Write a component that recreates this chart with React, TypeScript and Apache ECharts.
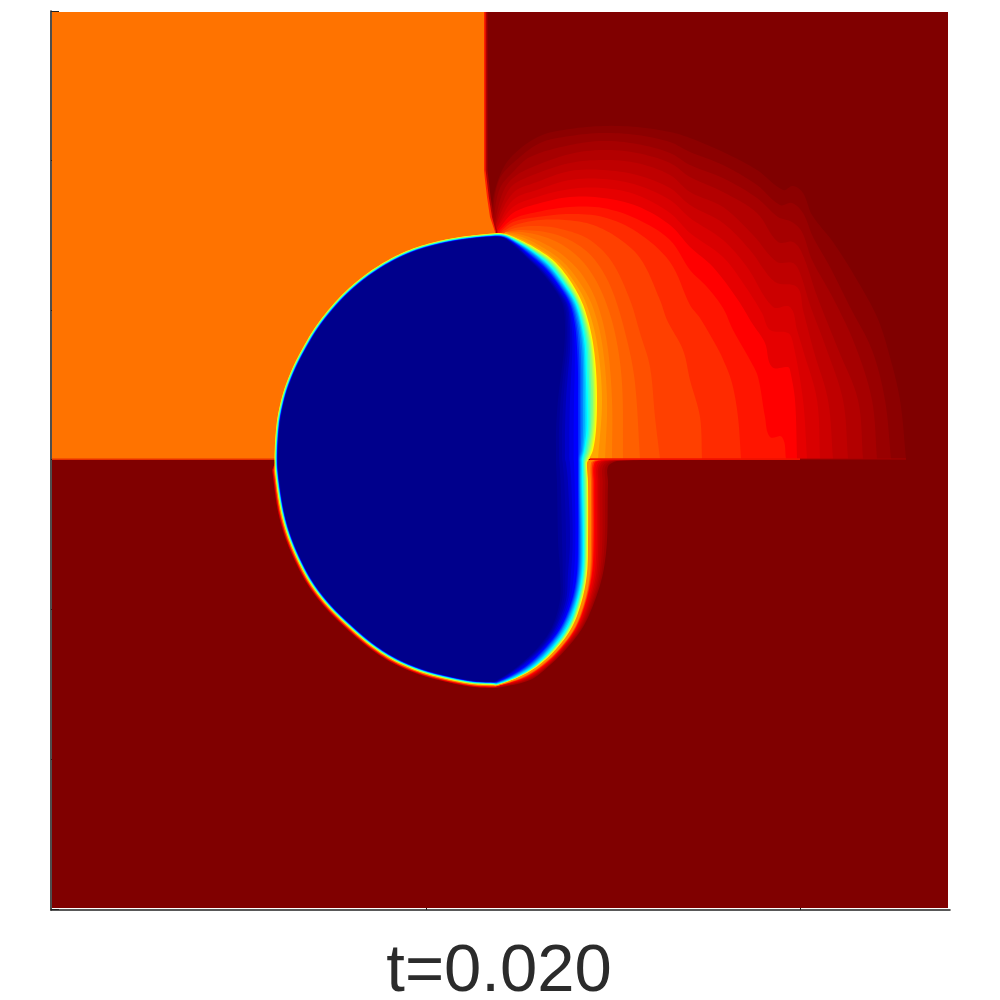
import React, { useEffect, useRef } from "react";
import * as echarts from "echarts";

type P = number[];
const pts = (...v: number[]): P[] => { const o: P[] = []; for (let i = 0; i < v.length; i += 2) o.push([v[i], v[i + 1]]); return o; };

const xTicks = [426, 800];
const yTicks = [11, 160, 310, 459, 609, 759, 909];
const timeLabel = "t=0.020";

const panel = pts(52, 12, 948, 12, 948, 908, 52, 908);
const orangeZone = pts(484, 12, 484, 170, 485, 180, 487, 197, 490, 217, 495, 232, 495, 459, 52, 459, 52, 12);
const orangeEdge1 = pts(485.6, 12, 485.6, 170, 486.8, 180, 488.8, 197, 492, 217, 496, 232, 496, 459, 52, 459, 52, 12);
const orangeEdge2 = pts(487.4, 12, 487.4, 170, 488.6, 180, 490.6, 197, 493.6, 217, 497, 232, 497, 459, 52, 459, 52, 12);
const shockLeft = pts(52, 458.4, 278, 458.4, 278, 460, 52, 460);
const shockRightA = pts(590, 458.2, 800, 458.2, 800, 460, 590, 460);
const shockRightB = pts(800, 458.4, 906, 458.4, 906, 459.6, 800, 459.6);

const fanContours: P[][] = [
  pts(906, 459, 900, 400, 888, 350, 877, 317, 857, 280, 833, 242, 812, 215, 803, 193, 793, 186, 783, 190, 757, 170, 723, 152, 690, 138, 670, 132, 637, 127, 603, 126, 570, 129, 540, 136, 513, 155, 500, 175, 492, 207, 496, 232),
  pts(891, 459, 885, 400, 872, 350, 850, 307, 830, 267, 813, 237, 803, 213, 792, 203, 780, 205, 757, 185, 723, 165, 690, 152, 670, 142, 637, 135, 603, 133, 570, 136, 540, 143, 513, 163, 499, 180, 493, 213, 496, 232),
  pts(877, 459, 872, 400, 855, 345, 833, 298, 812, 260, 802, 232, 792, 222, 778, 217, 757, 198, 723, 178, 690, 165, 670, 153, 637, 144, 603, 141, 570, 145, 530, 157, 513, 172, 500, 188, 494, 218, 496, 232),
  pts(863, 459, 858, 400, 838, 349, 817, 296, 802, 253, 793, 242, 778, 242, 757, 213, 723, 192, 690, 177, 670, 163, 637, 153, 603, 150, 570, 154, 530, 168, 513, 178, 503, 192, 495, 222, 496, 232),
  pts(848, 459, 843, 400, 825, 345, 810, 305, 800, 273, 793, 263, 777, 262, 753, 235, 723, 207, 690, 192, 670, 175, 637, 163, 603, 160, 570, 163, 533, 175, 513, 185, 505, 197, 496, 223, 497, 232),
  pts(833, 459, 828, 400, 814, 352, 803, 310, 797, 287, 775, 282, 750, 250, 723, 223, 690, 205, 670, 188, 637, 175, 603, 170, 570, 171, 537, 182, 513, 193, 496, 225, 497, 232),
  pts(820, 459, 817, 400, 803, 350, 797, 330, 790, 307, 773, 307, 747, 267, 723, 240, 690, 218, 670, 200, 637, 185, 603, 179, 570, 180, 537, 190, 513, 200, 497, 227),
  pts(807, 459, 803, 400, 793, 343, 788, 333, 770, 330, 762, 313, 743, 283, 723, 257, 690, 233, 670, 213, 637, 195, 603, 188, 570, 189, 537, 197, 513, 207, 497, 228),
  pts(797, 459, 795, 400, 790, 370, 788, 367, 772, 367, 765, 343, 752, 323, 738, 300, 713, 267, 690, 247, 670, 225, 637, 206, 603, 198, 570, 197, 537, 204, 513, 213, 498, 230),
  pts(786, 459, 782, 437, 770, 437, 765, 417, 758, 377, 750, 360, 733, 330, 723, 308, 707, 287, 690, 270, 670, 240, 637, 219, 603, 208, 570, 207, 537, 212, 513, 219, 498, 232),
  pts(741, 459, 738, 417, 732, 383, 722, 357, 713, 340, 700, 318, 690, 305, 670, 262, 637, 232, 603, 217, 570, 214, 537, 217, 513, 222, 500, 232),
  pts(702, 459, 700, 417, 690, 380, 683, 350, 667, 320, 660, 300, 640, 258, 615, 236, 590, 224, 565, 220, 540, 220, 515, 225, 502, 232),
  pts(660, 459, 655, 417, 650, 367, 640, 333, 630, 300, 612, 262, 590, 240, 565, 230, 540, 226, 515, 228, 503, 233),
  pts(640, 459, 635, 383, 627, 340, 612, 290, 595, 260, 575, 243, 550, 233, 520, 230, 505, 232),
  pts(623, 459, 622, 383, 615, 333, 603, 295, 588, 268, 570, 250, 548, 238, 522, 232, 505, 232),
  pts(612, 459, 612, 400, 607, 343, 597, 303, 583, 276, 565, 257, 545, 244, 523, 235, 505, 232),
  pts(605, 459, 607, 400, 602, 343, 592, 305, 578, 280, 562, 261, 542, 247, 522, 237, 505, 233),
  pts(598, 459, 602, 400, 597, 343, 586, 303, 573, 280, 558, 262, 540, 249, 521, 239, 504, 233),
];
const fanColors = ["#8c0000", "#990000", "#a60000", "#b30000", "#bf0000", "#cc0000", "#d90000", "#e60000", "#ff0000", "#ff1500", "#ff2b00", "#ff4000", "#ff5000", "#ff6000", "#ff7000", "#ff8000", "#ff9000", "#ffa800"];
const fanClose = pts(500, 459);

const leftArc = pts(493, 685, 473, 684, 446.7, 679, 420, 671.7, 393, 660, 370, 645, 346.7, 625, 326.7, 605, 310, 583, 296.7, 558, 286.7, 533, 280, 506.7, 275, 470, 274.7, 450, 276.7, 423, 280, 405, 285, 387, 293, 367, 303, 347.5, 315, 327.5, 330, 308, 347, 290, 367, 273.5, 390, 259, 413, 248.5, 437, 241.5, 460, 237, 487, 234);
const leftCentre = [500, 460];

const haloArcs: P[][] = [
  pts(640, 460, 610, 464, 608, 483, 607, 540, 603, 573, 595, 600, 583, 627, 567, 648, 550, 665, 530, 680, 497, 688),
  pts(620, 460, 602, 464, 600, 483, 600, 540, 598, 573, 591, 600, 580, 627, 564, 648, 548, 665, 527, 679, 497, 687),
  pts(605, 460, 596, 463, 595, 483, 595, 540, 593, 573, 587, 600, 577, 627, 562, 648, 545, 665, 525, 678, 497, 686),
  pts(595, 460, 591, 463, 591, 483, 591, 540, 590, 573, 585, 600, 575, 627, 560, 648, 542, 665, 523, 677, 497, 686),
];
const haloColors = ["#a00000", "#c80000", "#ff0000", "#ff8800"];
const haloScale = [1.013, 1.011, 1.008, 1.004];
const haloCorner = pts(276, 460);

const bubbleArcs: P[][] = [
  pts(503, 233.5, 520, 240, 537, 249, 554, 261, 569, 279, 581, 300, 588, 320, 593, 343, 596, 370, 597, 400, 596, 430, 593, 450, 589, 459, 587, 463, 588, 483, 588, 540, 587, 573, 582, 600, 572, 627, 557, 648, 539, 665, 520, 676.5, 497, 685),
  pts(503, 234.5, 519, 241, 535, 250.5, 552, 263, 566, 281, 578, 301, 585, 321, 590, 344, 592, 371, 593, 400, 592, 430, 589, 450, 586, 459, 585, 463, 586, 483, 586, 540, 585, 573, 580, 600, 570, 627, 555, 648, 537, 665, 518, 676.5, 497, 684.6),
  pts(503, 235, 518, 242, 534, 252, 550, 265, 564, 283, 576, 302, 582, 322, 586, 345, 587, 372, 588, 400, 588, 430, 585, 450, 583, 459, 583, 463, 583, 483, 584, 540, 583, 573, 578, 600, 568, 627, 553, 648, 536, 665, 517, 676.5, 497, 684),
  pts(503, 236, 517, 243, 532, 253, 548, 267, 562, 285, 573, 303, 579, 323, 582, 346, 583, 372, 583, 400, 583, 430, 582, 450, 580, 459, 580, 463, 580, 483, 581, 540, 580, 573, 575, 600, 564, 627, 550, 647, 533, 664, 515, 675.5, 497, 683),
  pts(503, 237, 516, 244, 530, 255, 546, 269, 560, 287, 570, 304, 575, 325, 577, 347, 578, 373, 578, 400, 578, 430, 578, 450, 578, 459, 578, 463, 578, 483, 578, 540, 577, 573, 572, 600, 561, 627, 547, 646, 530, 663, 513, 674.5, 497, 682),
  pts(503, 237.5, 515, 245, 528, 257, 543, 271, 557, 289, 567, 305, 570, 327, 570, 349, 568, 373, 566, 400, 565, 430, 565, 450, 565, 459, 566, 463, 568, 483, 570, 540, 568, 573, 566, 600, 556, 627, 543, 646, 527, 661, 511, 673, 497, 681),
  pts(503, 238, 514, 246, 527, 258, 541, 272, 555, 290, 563, 306, 565, 328, 564, 350, 561, 375, 558, 400, 556, 430, 556, 450, 556, 459, 556, 463, 557, 483, 558, 540, 560, 573, 560, 600, 552, 627, 540, 645, 525, 660, 510, 672, 497, 680),
];
const bubbleColors = ["#ffff00", "#80ff80", "#00ffff", "#0080ff", "#0000ff", "#0000b4", "#00008c"];
const bubbleScale = [1, 0.996, 0.993, 0.99, 0.988, 0.986, 0.984];
const blendSteps = 3;

const scaled = (list: P[], s: number): P[] =>
  list.map((p) => [leftCentre[0] + (p[0] - leftCentre[0]) * s, leftCentre[1] + (p[1] - leftCentre[1]) * s]);
const hex = (c: string) => [1, 3, 5].map((i) => parseInt(c.slice(i, i + 2), 16));
const mixColor = (a: string, b: string, t: number) => {
  const x = hex(a), y = hex(b);
  return `rgb(${x.map((v, i) => Math.round(v + (y[i] - v) * t)).join(",")})`;
};
const mixArc = (a: P[], b: P[], t: number): P[] => a.map((p, i) => [p[0] + (b[i][0] - p[0]) * t, p[1] + (b[i][1] - p[1]) * t]);

type Ramp = { arc: P[]; color: string; s: number };
const ramp = (arcs: P[][], colors: string[], scales: number[]): Ramp[] => {
  const out: Ramp[] = [];
  arcs.forEach((a, i) => {
    if (i === arcs.length - 1) { out.push({ arc: a, color: colors[i], s: scales[i] }); return; }
    for (let k = 0; k < blendSteps; k++) {
      const t = k / blendSteps;
      out.push({ arc: mixArc(a, arcs[i + 1], t), color: mixColor(colors[i], colors[i + 1], t), s: scales[i] + (scales[i + 1] - scales[i]) * t });
    }
  });
  return out;
};

type Layer = { curve: P[]; tail: P[]; c: string; closed?: boolean };
const layers: Layer[] = [
  { curve: [], tail: panel, c: "#800000" },
  ...fanContours.map((c, i) => ({ curve: c, tail: fanClose, c: fanColors[i] })),
  { curve: [], tail: orangeEdge2, c: "#b00000" },
  { curve: [], tail: orangeEdge1, c: "#ff2000" },
  { curve: [], tail: orangeZone, c: "#ff7300" },
  { curve: [], tail: shockLeft, c: "#e83000" },
  { curve: [], tail: shockRightA, c: "#f01000" },
  { curve: [], tail: shockRightB, c: "#a80000" },
  ...ramp(haloArcs, haloColors, haloScale).map((r) => ({
    curve: [...r.arc, ...scaled(leftArc.filter((q) => q[1] > 460), r.s)],
    tail: haloCorner,
    c: r.color,
  })),
  ...ramp(bubbleArcs, bubbleColors, bubbleScale).map((r) => ({
    curve: [...r.arc, ...scaled(leftArc, r.s)],
    tail: [],
    c: r.color,
    closed: true,
  })),
];

// Draws a pixel-space curve through the projected contour points.
const traceCurve = (q: P[], closed: boolean): P[] => {
  const n = q.length;
  if (n < 3) return q;
  const at = (i: number) => (closed ? q[(i + n) % n] : q[Math.max(0, Math.min(n - 1, i))]);
  const dir = (i: number) => {
    const a = at(i - 1), b = at(i + 1);
    const d = Math.hypot(b[0] - a[0], b[1] - a[1]) || 1;
    return [(b[0] - a[0]) / d, (b[1] - a[1]) / d];
  };
  const out: P[] = [];
  const segs = closed ? n : n - 1;
  for (let i = 0; i < segs; i++) {
    const p0 = at(i), p3 = at(i + 1);
    const len = Math.hypot(p3[0] - p0[0], p3[1] - p0[1]) / 3;
    const d0 = dir(i), d1 = dir(i + 1);
    const p1 = [p0[0] + d0[0] * len, p0[1] + d0[1] * len];
    const p2 = [p3[0] - d1[0] * len, p3[1] - d1[1] * len];
    for (let k = 0; k < 8; k++) {
      const t = k / 8, u = 1 - t;
      out.push([
        u * u * u * p0[0] + 3 * u * u * t * p1[0] + 3 * u * t * t * p2[0] + t * t * t * p3[0],
        u * u * u * p0[1] + 3 * u * u * t * p1[1] + 3 * u * t * t * p2[1] + t * t * t * p3[1],
      ]);
    }
  }
  if (!closed) out.push(q[n - 1]);
  return out;
};

export default function App() {
  const ref = useRef<HTMLDivElement>(null);
  useEffect(() => {
    document.body.style.margin = "0";
    const chart = echarts.init(ref.current!, undefined, { renderer: "svg" });
    const axisBase = {
      type: "value",
      splitLine: { show: false },
      axisLabel: { show: false },
      axisLine: { show: true, onZero: false, lineStyle: { color: "#222222", width: 1.6 } },
    };
    chart.setOption({
      animation: false,
      backgroundColor: "#ffffff",
      title: {
        text: timeLabel,
        left: 499,
        textAlign: "center",
        top: 939,
        padding: 0,
        textStyle: { fontFamily: "Liberation Sans", fontSize: 67, lineHeight: 56, fontWeight: "normal", color: "#2b2b2b" },
      },
      grid: { left: 51, top: 11, width: 899, height: 899 },
      xAxis: {
        ...axisBase,
        min: 51,
        max: 950,
        position: "bottom",
        axisTick: { show: true, inside: true, length: 8, customValues: xTicks, lineStyle: { color: "#222222", width: 1 } },
      },
      yAxis: {
        ...axisBase,
        min: 11,
        max: 910,
        inverse: true,
        position: "left",
        axisTick: { show: true, inside: true, length: 8, customValues: yTicks, lineStyle: { color: "#222222", width: 1 } },
      },
      series: [
        {
          type: "custom",
          coordinateSystem: "cartesian2d",
          silent: true,
          clip: false,
          data: layers.map((_, i) => [i + 51, 11]),
          renderItem: (params: any, api: any) => {
            const l = layers[params.dataIndex];
            const curve = traceCurve(l.curve.map((q) => api.coord(q)), !!l.closed);
            const tail = l.tail.map((q) => api.coord(q));
            return {
              type: "polygon",
              shape: { points: [...curve, ...tail] },
              style: { fill: l.c, stroke: "none" },
            };
          },
        },
      ],
    });
    return () => chart.dispose();
  }, []);
  return <div ref={ref} style={{ position: "absolute", left: 0, top: 0, width: 1000, height: 1000 }} />;
}
